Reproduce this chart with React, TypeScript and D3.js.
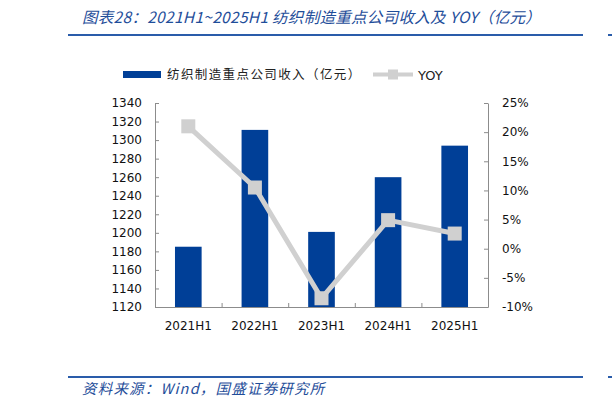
import { useEffect, useRef } from 'react';
import * as d3 from 'd3';

const categories = ['2021H1', '2022H1', '2023H1', '2024H1', '2025H1'];
const revenue = [1185, 1311, 1201, 1260, 1294];
const yoy = [21.0, 10.5, -8.5, 4.9, 2.6];
const leftTicks = [1120, 1140, 1160, 1180, 1200, 1220, 1240, 1260, 1280, 1300, 1320, 1340];
const rightTicks = [-10, -5, 0, 5, 10, 15, 20, 25];

const TITLE = '图表28：2021H1~2025H1 纺织制造重点公司收入及 YOY（亿元）';
const SOURCE = '资料来源：Wind，国盛证券研究所';
const BAR_LABEL = '纺织制造重点公司收入（亿元）';
const LINE_LABEL = 'YOY';

const BLUE = '#003f97';
const GREY_LINE = '#d0d0d0';
const AXIS = '#8c8c8c';
const HEAD_BLUE = '#1f4e9a';
const RULE = '#2a5caa';

export default function App() {
  const svgRef = useRef<SVGSVGElement>(null);

  useEffect(() => {
    if (!svgRef.current) return;
    const svg = d3.select(svgRef.current);
    svg.selectAll('*').remove();

    const width = 612;
    const height = 409;
    const margin = { top: 103, right: 612 - 488, bottom: 409 - 307, left: 155 };
    const innerWidth = width - margin.left - margin.right;
    const innerHeight = height - margin.top - margin.bottom;
    const font = '"DejaVu Sans", sans-serif';
    const cjk = '"Noto Sans CJK SC", sans-serif';

    // header and footer rules
    svg.append('text')
      .attr('x', 82).attr('y', 23)
      .attr('fill', HEAD_BLUE)
      .attr('font-family', cjk)
      .attr('font-style', 'italic')
      .attr('font-size', 15.5)
      .attr('letter-spacing', 0.3)
      .text(TITLE);
    [35, 377].forEach((yy) => {
      svg.append('line').attr('x1', 68).attr('x2', 583).attr('y1', yy).attr('y2', yy)
        .attr('stroke', RULE).attr('stroke-width', 2);
      svg.append('line').attr('x1', 608).attr('x2', 612).attr('y1', yy).attr('y2', yy)
        .attr('stroke', RULE).attr('stroke-width', 2);
    });
    svg.append('text')
      .attr('x', 82).attr('y', 394)
      .attr('fill', HEAD_BLUE)
      .attr('font-family', cjk)
      .attr('font-style', 'italic')
      .attr('font-size', 14.5)
      .attr('letter-spacing', 1.2)
      .text(SOURCE);

    // legend
    const lg = svg.append('g');
    lg.append('rect').attr('x', 123).attr('y', 71).attr('width', 38).attr('height', 7).attr('fill', BLUE);
    lg.append('text').attr('x', 167).attr('y', 79).attr('font-family', cjk).attr('font-size', 12.5)
      .attr('letter-spacing', 1.4)
      .attr('fill', '#222').text(BAR_LABEL);
    lg.append('line').attr('x1', 373).attr('x2', 413).attr('y1', 74.5).attr('y2', 74.5)
      .attr('stroke', GREY_LINE).attr('stroke-width', 4);
    lg.append('rect').attr('x', 388).attr('y', 69.5).attr('width', 10).attr('height', 10).attr('fill', GREY_LINE);
    lg.append('text').attr('x', 418).attr('y', 79.5).attr('font-family', font).attr('font-size', 13)
      .attr('fill', '#222').text(LINE_LABEL);

    const g = svg.append('g').attr('transform', `translate(${margin.left}, ${margin.top})`);

    const x = d3.scaleBand().domain(categories).range([0, innerWidth]).paddingInner(0.6).paddingOuter(0.3);
    const xPoint = (c: string) => x(c)! + x.bandwidth() / 2;
    const yL = d3.scaleLinear().domain([1120, 1340]).range([innerHeight, 0]);
    const yR = d3.scaleLinear().domain([-10, 25]).range([innerHeight, 0]);

    g.selectAll('rect.bar')
      .data(categories)
      .join('rect')
      .attr('class', 'bar')
      .attr('x', (c) => x(c)!)
      .attr('width', x.bandwidth())
      .attr('y', (_c, i) => yL(revenue[i]))
      .attr('height', (_c, i) => innerHeight - yL(revenue[i]))
      .attr('fill', BLUE);

    // axes
    const leftAxis = g.append('g')
      .call(d3.axisLeft(yL).tickValues(leftTicks).tickFormat(d3.format('d')).tickSizeInner(-4).tickSizeOuter(0).tickPadding(13));
    const rightAxis = g.append('g')
      .attr('transform', `translate(${innerWidth}, 0)`)
      .call(d3.axisRight(yR).tickValues(rightTicks).tickFormat((d) => `${d}%`).tickSizeInner(-4).tickSizeOuter(0).tickPadding(14));
    const boundaries = d3.range(categories.length + 1).map((i) => (innerWidth / categories.length) * i);
    const xLin = d3.scaleLinear().domain([0, innerWidth]).range([0, innerWidth]);
    const bottomAxis = g.append('g')
      .attr('transform', `translate(0, ${innerHeight})`)
      .call(d3.axisBottom(xLin).tickValues(boundaries).tickFormat(() => '').tickSizeInner(-4).tickSizeOuter(0));
    g.append('g')
      .attr('transform', `translate(0, ${innerHeight})`)
      .selectAll('text')
      .data(categories)
      .join('text')
      .attr('x', (c) => xPoint(c))
      .attr('y', 23)
      .attr('text-anchor', 'middle')
      .attr('font-family', font)
      .attr('font-size', 12)
      .attr('fill', '#111')
      .text((c) => c);

    [leftAxis, rightAxis, bottomAxis].forEach((a) => {
      a.selectAll('.domain, .tick line').attr('stroke', AXIS);
      a.selectAll('text').attr('font-family', font).attr('font-size', 12).attr('fill', '#111');
    });

    // YOY line
    const line = d3.line<number>()
      .x((_d, i) => xPoint(categories[i]))
      .y((d) => yR(d));
    g.append('path')
      .datum(yoy)
      .attr('d', line)
      .attr('fill', 'none')
      .attr('stroke', GREY_LINE)
      .attr('stroke-width', 5);
    const m = 14;
    g.selectAll('rect.mk')
      .data(yoy)
      .join('rect')
      .attr('class', 'mk')
      .attr('x', (_d, i) => xPoint(categories[i]) - m / 2)
      .attr('y', (d) => yR(d) - m / 2)
      .attr('width', m)
      .attr('height', m)
      .attr('fill', GREY_LINE);
  }, []);

  return (
    <div style={{ position: 'absolute', left: 0, top: 0 }}>
      <svg ref={svgRef} width={612} height={409} style={{ display: 'block', background: '#fff' }} />
    </div>
  );
}
